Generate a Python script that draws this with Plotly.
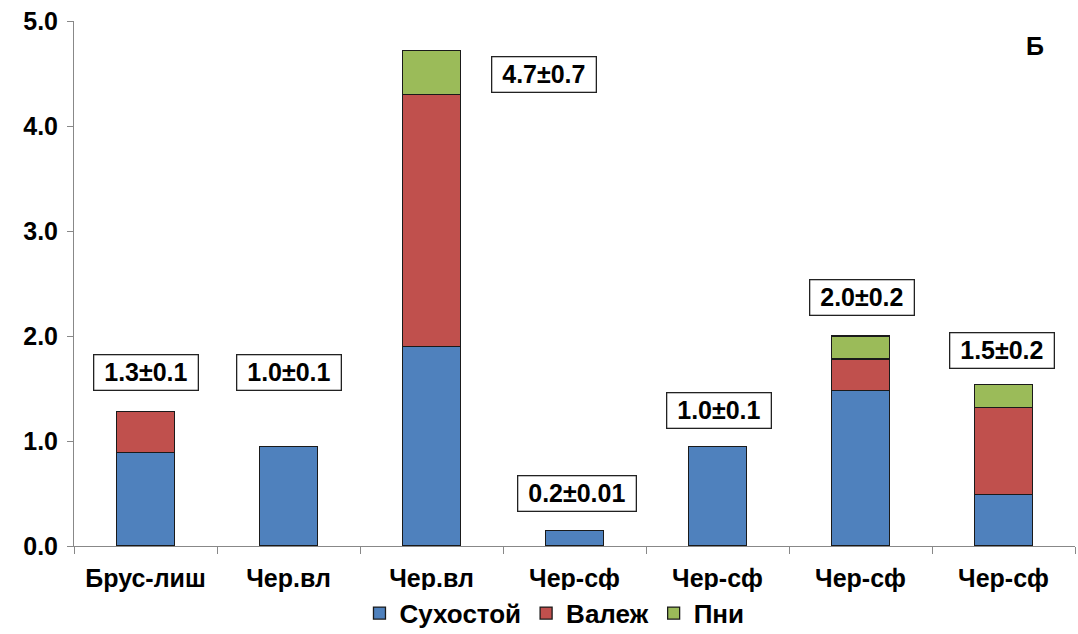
import plotly.graph_objects as go

categories = ["Брус-лиш", "Чер.вл", "Чер.вл", "Чер-сф", "Чер-сф", "Чер-сф", "Чер-сф"]
sukhostoy = [0.89, 0.95, 1.90, 0.15, 0.95, 1.48, 0.49]
valezh = [0.39, 0.0, 2.40, 0.0, 0.0, 0.30, 0.83]
pni = [0.0, 0.0, 0.42, 0.0, 0.0, 0.22, 0.22]
totals_text = ["1.3±0.1", "1.0±0.1", "4.7±0.7", "0.2±0.01", "1.0±0.1", "2.0±0.2", "1.5±0.2"]
label_x = [0.0, 1.0, 2.79, 3.02, 4.01, 5.01, 5.99]
label_y = [1.65, 1.65, 4.49, 0.50, 1.29, 2.37, 1.86]

x = list(range(len(categories)))
arial = "Liberation Sans, Arial, sans-serif"

fig = go.Figure()
for name, vals, col in [("Сухостой", sukhostoy, "#4F81BD"),
                        ("Валеж", valezh, "#C0504D"),
                        ("Пни", pni, "#9BBB59")]:
    fig.add_trace(go.Bar(x=x, y=vals, name="<b>%s</b>" % name,
                         marker=dict(color=col, line=dict(color="#1a1a1a", width=1.3))))

for tx, ty, t in zip(label_x, label_y, totals_text):
    fig.add_annotation(x=tx, y=ty, xref="x", yref="y", text="<b>\u00a0%s\u00a0</b>" % t, showarrow=False,
                       font=dict(family=arial, size=25, color="black"),
                       bordercolor="#222", borderwidth=1.3, borderpad=3, bgcolor="white")

fig.add_annotation(x=0.971, y=0.983, xref="paper", yref="paper", text="<b>Б</b>", showarrow=False,
                   font=dict(family=arial, size=25, color="black"))

fig.update_layout(
    barmode="stack", bargap=0.595,
    width=1078, height=634,
    margin=dict(l=74, r=3, t=21, b=88, autoexpand=False),
    plot_bgcolor="white", paper_bgcolor="white",
    showlegend=True,
    legend=dict(orientation="h", x=0.48, xanchor="center", y=-0.128, yanchor="middle",
                font=dict(family=arial, size=26, color="black"),
                traceorder="normal", itemwidth=30),
    xaxis=dict(range=[-0.5, 6.5], tickvals=x, ticktext=["<b>%s</b>" % c for c in categories],
               tickfont=dict(family=arial, size=25, color="black"), ticks="",
               showline=True, linecolor="#888", linewidth=1, showgrid=False, zeroline=False,
               minor=dict(tick0=-0.5, dtick=1, ticks="outside", ticklen=7, tickcolor="#888"),
               ticklabelstandoff=10),
    yaxis=dict(range=[0, 5], dtick=1, tickformat=".1f", ticks="outside", ticklen=6, tickcolor="#888",
               showline=True, linecolor="#888", linewidth=1, showgrid=False, zeroline=False,
               tickfont=dict(family=arial, size=25, color="black"), ticklabelstandoff=4,
               tickprefix="<b>", ticksuffix="</b>"),
)
fig.write_html("out.html", config={"displayModeBar": False},
               post_script="document.body.style.margin='0';document.body.style.overflow='hidden';")
